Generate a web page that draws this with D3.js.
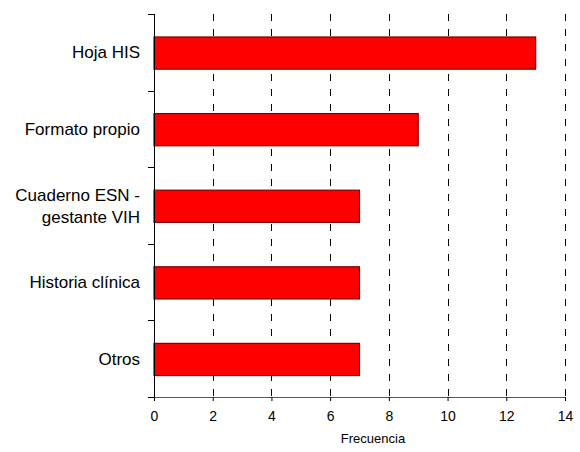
<!DOCTYPE html>
<html><head><meta charset="utf-8">
<script src="https://cdn.jsdelivr.net/npm/d3@7"></script>
<style>body{margin:0;background:#fff;} text{font-family:Arial,"Liberation Sans",sans-serif;fill:#000;}</style>
</head><body><svg id="c" width="580" height="452"></svg>
<script>
const categories = ["Hoja HIS", "Formato propio", "Cuaderno ESN - gestante VIH", "Historia clínica", "Otros"];
const labelLines = [["Hoja HIS"], ["Formato propio"], ["Cuaderno ESN -", "gestante VIH"], ["Historia clínica"], ["Otros"]];
const values = [13, 9, 7, 7, 7];
const xTicks = [0, 2, 4, 6, 8, 10, 12, 14];
const xTitle = "Frecuencia";

const svg = d3.select("#c");
const mLeft = 154, mRight = 565, mTop = 14, mBottom = 397;
const x = d3.scaleLinear().domain([0, 14]).range([mLeft, mRight]);
const y = d3.scaleBand().domain(categories).range([mTop, mBottom]).paddingInner(0).paddingOuter(0);
const bw = y.bandwidth();

// gridlines
svg.append("g").selectAll("line").data(xTicks.filter(t => t > 0)).join("line")
  .attr("x1", d => Math.round(x(d)) + 0.5).attr("x2", d => Math.round(x(d)) + 0.5)
  .attr("y1", mTop).attr("y2", mBottom)
  .attr("stroke", "#000").attr("stroke-width", 1).attr("stroke-dasharray", "7,8");

// bars
svg.append("g").selectAll("rect").data(categories).join("rect")
  .attr("x", x(0))
  .attr("y", (d) => y(d) + bw * 0.3)
  .attr("width", (d, i) => x(values[i]) - x(0))
  .attr("height", bw * 0.42)
  .attr("fill", "#ff0000").attr("stroke", "#800000").attr("stroke-width", 1.2);

// x axis
const xAxis = d3.axisBottom(x).tickValues(xTicks).tickSize(4).tickPadding(10).tickFormat(d3.format("d"));
const gx = svg.append("g").attr("transform", `translate(0,${mBottom})`).call(xAxis)
  .attr("font-size", 14).attr("font-family", "Arial, 'Liberation Sans', sans-serif");
gx.select(".domain").attr("stroke", "#555");
gx.selectAll(".tick line").attr("stroke", "#000");
gx.selectAll(".tick text").style("font-size", "14px");

// y axis line + ticks at band boundaries
svg.append("line").attr("x1", mLeft + 0.5).attr("x2", mLeft + 0.5).attr("y1", mTop).attr("y2", mBottom).attr("stroke", "#000");
const bounds = categories.map(c => y(c)).concat([mBottom]);
svg.append("g").selectAll("line").data(bounds).join("line")
  .attr("x1", mLeft - 6).attr("x2", mLeft).attr("y1", d => Math.round(d) + 0.5).attr("y2", d => Math.round(d) + 0.5)
  .attr("stroke", "#000");

// category labels
const lg = svg.append("g");
categories.forEach((c, i) => {
  const lines = labelLines[i];
  const cy = y(c) + bw / 2;
  const lh = 22;
  const t = lg.append("text").attr("text-anchor", "end").attr("font-size", 17);
  lines.forEach((ln, j) => {
    t.append("tspan").attr("x", 140).attr("y", cy + (j - (lines.length - 1) / 2) * lh).attr("dy", "0.36em").text(ln);
  });
});

// x title
svg.append("text").attr("x", 373).attr("y", 443).attr("text-anchor", "middle")
  .attr("font-size", 13).text(xTitle);
</script></body></html>
